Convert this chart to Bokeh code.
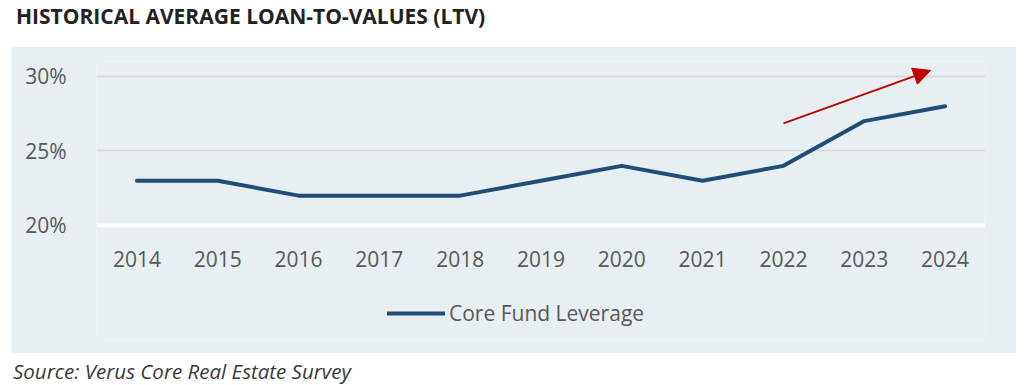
from bokeh.plotting import figure
from bokeh.models import (FixedTicker, PrintfTickFormatter, Legend, LegendItem,
                          Arrow, NormalHead, Div, Range1d)
from bokeh.layouts import column
from bokeh.embed import file_html
from bokeh.resources import INLINE

years = [2014, 2015, 2016, 2017, 2018, 2019, 2020, 2021, 2022, 2023, 2024]
ltv = [23, 23, 22, 22, 22, 23, 24, 23, 24, 27, 28]
y_ticks = [20, 25, 30]
series_name = "Core Fund Leverage"
title_text = "HISTORICAL AVERAGE LOAN-TO-VALUES (LTV)"
source_text = "Source: Verus Core Real Estate Survey"
arrow_start = (2022.0, 26.85)
arrow_end = (2023.82, 30.4)

BG = "#e7eff2"
TXT = "#595959"
FONT = "Open Sans"

title = Div(text=title_text, width=1016, height=36,
            styles={"font-family": FONT, "font-size": "21px", "font-weight": "bold",
                    "color": "#222222", "padding-left": "11px", "line-height": "22px",
                    "white-space": "nowrap"})

p = figure(width=1005, height=307, output_backend="svg", toolbar_location=None,
           x_range=Range1d(2013.5, 2024.5), y_range=Range1d(12.35, 31),
           min_border_left=85, min_border_right=31, min_border_top=15, min_border_bottom=14)
p.margin = (0, 0, 0, 11)
p.background_fill_color = BG
p.border_fill_color = BG
p.outline_line_color = None

r = p.line(years, ltv, line_color="#1f4e79", line_width=4, line_cap="round", line_join="round")

p.xaxis.fixed_location = 20
p.xaxis.ticker = FixedTicker(ticks=years)
p.xaxis.axis_line_color = "white"
p.xaxis.axis_line_width = 4
p.xaxis.major_tick_line_color = None
p.xaxis.minor_tick_line_color = None
p.xaxis.major_label_text_font = FONT
p.xaxis.major_label_text_font_size = "21px"
p.xaxis.major_label_text_color = TXT
p.xaxis.major_label_standoff = 20

p.yaxis.ticker = FixedTicker(ticks=y_ticks)
p.yaxis.formatter = PrintfTickFormatter(format="%d%%")
p.yaxis.axis_line_color = None
p.yaxis.major_tick_line_color = None
p.yaxis.minor_tick_line_color = None
p.yaxis.major_label_text_font = FONT
p.yaxis.major_label_text_font_size = "21px"
p.yaxis.major_label_text_color = TXT
p.yaxis.major_label_standoff = 24

p.xgrid.grid_line_color = None
p.ygrid.ticker = FixedTicker(ticks=y_ticks)
p.ygrid.grid_line_color = "#d6d6d6"
p.ygrid.grid_line_width = 1.5

p.add_layout(Arrow(end=NormalHead(size=17, fill_color="#c00000", line_color="#c00000"),
                   x_start=arrow_start[0], y_start=arrow_start[1],
                   x_end=arrow_end[0], y_end=arrow_end[1],
                   line_color="#c00000", line_width=1.8))

legend = Legend(items=[LegendItem(label=series_name, renderers=[r])],
                location=(291, 12), orientation="horizontal",
                background_fill_alpha=0, border_line_color=None,
                padding=0, margin=0, glyph_width=58, label_standoff=4,
                label_text_font=FONT, label_text_font_size="21px",
                label_text_color=TXT)
p.add_layout(legend, "center")

source = Div(text=source_text, width=1016, height=26,
             styles={"font-family": FONT, "font-size": "20.5px", "font-style": "italic",
                     "color": "#3a3a3a", "padding-left": "8px", "line-height": "26px",
                     "white-space": "nowrap"})

layout = column(title, p, source, spacing=0)
open("out.html", "w").write(file_html(layout, INLINE))
